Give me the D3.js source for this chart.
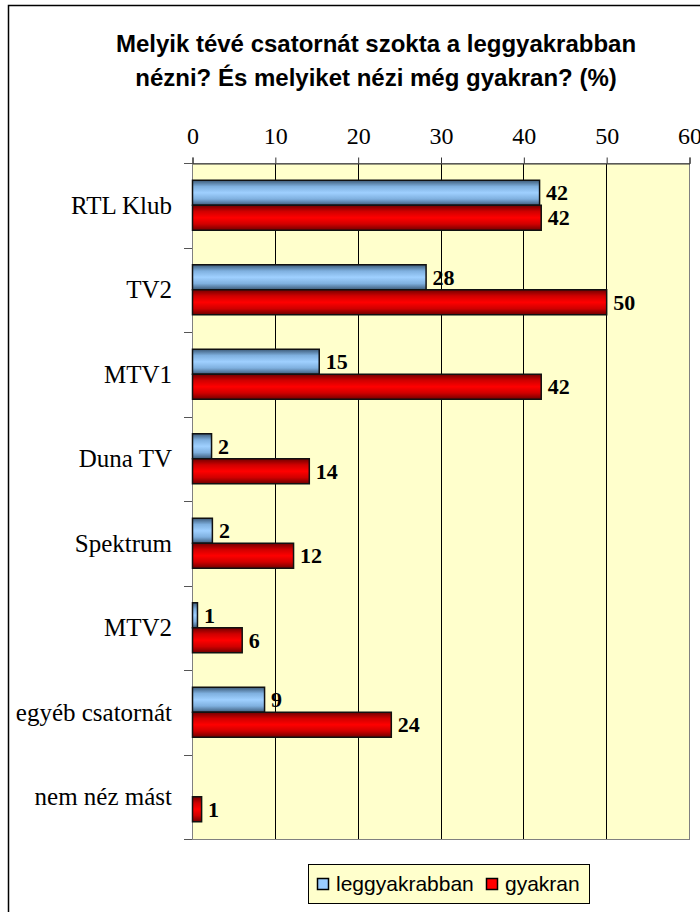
<!DOCTYPE html>
<html>
<head>
<meta charset="utf-8">
<script src="https://cdn.jsdelivr.net/npm/d3@7"></script>
<style>
  body { margin: 0; background: #fff; }
  svg { display: block; }
</style>
</head>
<body>
<svg id="chart"></svg>
<script>
// Categories (top to bottom)
const channels = ["RTL Klub", "TV2", "MTV1", "Duna TV", "Spektrum", "MTV2", "egyéb csatornát", "nem néz mást"];

// Series values (%)
const leggyakrabban = [41.9, 28.2, 15.3, 2.3, 2.4, 0.6, 8.7, 0];
const gyakran = [42.1, 50, 42.1, 14.1, 12.2, 6.0, 24.0, 1.1];

const seriesNames = ["leggyakrabban", "gyakran"];
const xTicks = [0, 10, 20, 30, 40, 50, 60];

const titleLines = [
  "Melyik tévé csatornát szokta a leggyakrabban",
  "nézni? És melyiket nézi még gyakran? (%)"
];

const width = 700, height = 912;
const plot = { left: 192, right: 689, top: 163, bottom: 839 };
const serif = "'Liberation Serif', 'Times New Roman', serif";
const sans = "'Liberation Sans', Arial, sans-serif";

const svg = d3.select("#chart").attr("width", width).attr("height", height);

// Gradients for the bars
const defs = svg.append("defs");
function gradient(id, edge, mid, center) {
  const g = defs.append("linearGradient").attr("id", id)
    .attr("x1", 0).attr("y1", 0).attr("x2", 0).attr("y2", 1);
  g.append("stop").attr("offset", "0%").attr("stop-color", edge);
  g.append("stop").attr("offset", "25%").attr("stop-color", mid);
  g.append("stop").attr("offset", "50%").attr("stop-color", center);
  g.append("stop").attr("offset", "75%").attr("stop-color", mid);
  g.append("stop").attr("offset", "100%").attr("stop-color", edge);
}
gradient("gradBlue", "#3c5a78", "#7fb0df", "#9fd0ff");
gradient("gradRed", "#700000", "#d00000", "#ff0000");
const fills = { leggyakrabban: "url(#gradBlue)", gyakran: "url(#gradRed)" };
const swatch = { leggyakrabban: "#99ccff", gyakran: "#ff0000" };

// Outer chart border
svg.append("rect")
  .attr("x", 8.5).attr("y", 5.5)
  .attr("width", 900).attr("height", 1000)
  .attr("fill", "#fff").attr("stroke", "#000").attr("stroke-width", 1.5);

// Title
svg.append("text")
  .attr("text-anchor", "middle")
  .attr("font-family", sans)
  .attr("font-weight", "bold")
  .attr("font-size", 24)
  .selectAll("tspan")
  .data(titleLines)
  .join("tspan")
  .attr("x", 376)
  .attr("y", (d, i) => 52 + i * 34)
  .text(d => d);

// Scales
const x = d3.scaleLinear().domain([0, 60]).range([plot.left, plot.right]);
const y0 = d3.scaleBand().domain(channels).range([plot.top, plot.bottom]);
const groupH = 50;
const y1 = d3.scaleBand().domain(seriesNames).range([0, groupH]);

// Plot background
svg.append("rect")
  .attr("x", plot.left).attr("y", plot.top)
  .attr("width", plot.right - plot.left).attr("height", plot.bottom - plot.top)
  .attr("fill", "#ffffcc");

// Gridlines
svg.append("g")
  .selectAll("line")
  .data(xTicks.slice(1, -1))
  .join("line")
  .attr("x1", d => Math.round(x(d)) + 0.5).attr("x2", d => Math.round(x(d)) + 0.5)
  .attr("y1", plot.top).attr("y2", plot.bottom)
  .attr("stroke", "#000").attr("stroke-width", 1);

// Plot border
svg.append("rect")
  .attr("x", plot.left + 0.5).attr("y", plot.top + 0.5)
  .attr("width", plot.right - plot.left).attr("height", plot.bottom - plot.top)
  .attr("fill", "none").attr("stroke", "#808080").attr("stroke-width", 1);

// Top axis
const xAxis = svg.append("g")
  .attr("transform", `translate(0.5,${plot.top + 0.5})`)
  .call(d3.axisTop(x).tickValues(xTicks).tickSize(6).tickPadding(14).tickFormat(d3.format("d")));
xAxis.select(".domain").attr("stroke", "#333");
xAxis.selectAll(".tick line").attr("stroke", "#333");
xAxis.selectAll("text")
  .attr("font-family", serif)
  .attr("font-size", 24)
  .attr("fill", "#000");

// Left axis: ticks between categories
const bounds = channels.map(c => y0(c)).concat([plot.bottom]);
svg.append("g")
  .selectAll("line")
  .data(bounds)
  .join("line")
  .attr("x1", plot.left - 8).attr("x2", plot.left)
  .attr("y1", d => Math.round(d) + 0.5).attr("y2", d => Math.round(d) + 0.5)
  .attr("stroke", "#555");

svg.append("g")
  .selectAll("text")
  .data(channels)
  .join("text")
  .attr("x", 172)
  .attr("y", d => y0(d) + y0.bandwidth() / 2)
  .attr("dy", "0.33em")
  .attr("text-anchor", "end")
  .attr("font-family", serif)
  .attr("font-size", 25)
  .text(d => d);

// Bars
const rows = channels.map((c, i) => ({ c, leggyakrabban: leggyakrabban[i], gyakran: gyakran[i] }));
const groups = svg.append("g")
  .selectAll("g")
  .data(rows)
  .join("g")
  .attr("transform", d => `translate(0,${y0(d.c) + (y0.bandwidth() - groupH) / 2})`);

const cells = groups.selectAll("g")
  .data(d => seriesNames.map(s => ({ s, v: d[s] })).filter(e => e.v > 0))
  .join("g");

cells.append("rect")
  .attr("x", plot.left + 0.5)
  .attr("y", d => y1(d.s))
  .attr("width", d => x(d.v) - x(0))
  .attr("height", y1.bandwidth())
  .attr("fill", d => fills[d.s])
  .attr("stroke", "#111")
  .attr("stroke-width", 1.5);

cells.append("text")
  .attr("x", d => x(d.v) + 7)
  .attr("y", d => y1(d.s) + y1.bandwidth() / 2)
  .attr("dy", "0.35em")
  .attr("font-family", serif)
  .attr("font-weight", "bold")
  .attr("font-size", 22)
  .text(d => Math.round(d.v));

// Legend
const legend = svg.append("g").attr("transform", "translate(308,864)");
legend.append("rect")
  .attr("x", 0.5).attr("y", 0.5).attr("width", 281).attr("height", 39)
  .attr("fill", "#ffffcc").attr("stroke", "#000");
const items = legend.selectAll("g.item")
  .data(seriesNames)
  .join("g")
  .attr("class", "item")
  .attr("transform", (d, i) => `translate(${i === 0 ? 9 : 178},0)`);
items.append("rect")
  .attr("x", 0.5).attr("y", 14.5).attr("width", 11).attr("height", 11)
  .attr("fill", d => swatch[d]).attr("stroke", "#000").attr("stroke-width", 1.5);
items.append("text")
  .attr("x", 19).attr("y", 27)
  .attr("font-family", sans)
  .attr("font-size", 21)
  .text(d => d);
</script>
</body>
</html>
